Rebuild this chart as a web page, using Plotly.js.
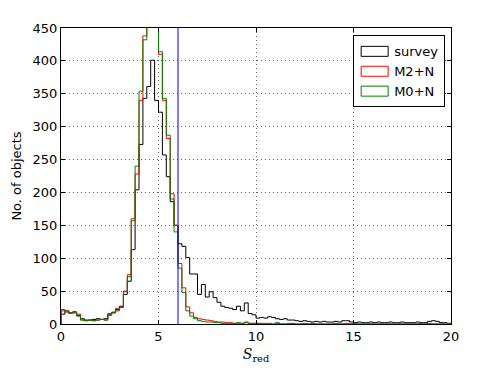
<!DOCTYPE html>
<html>
<head>
<meta charset="utf-8">
<script src="https://cdn.plot.ly/plotly-3.0.1.min.js"></script>
<style>
  html, body { margin: 0; padding: 0; background: #fff; }
  #chart { width: 491px; height: 368px; }
</style>
</head>
<body>
<div id="chart"></div>
<script>
// histogram counts, bins of width 0.2 from 0 to 20
const binWidth = 0.2;
const binStart = 0;

const surveyCounts = [
  15, 20, 17, 18, 13, 8, 6, 6, 7, 8,
  7, 8, 15, 18, 22, 27, 45, 65, 113, 204,
  273, 343, 361, 401, 340, 322, 257, 224, 186, 150,
  122, 118, 101, 76, 76, 45, 60, 41, 49, 40,
  33, 27, 25, 24, 22, 27, 20, 32, 16, 14,
  9, 10, 9, 11, 10, 8, 7, 8, 6, 6,
  5, 4, 5, 4, 3, 4, 3, 4, 3, 3,
  4, 3, 5, 5, 3, 2, 3, 2, 2, 3,
  2, 3, 2, 2, 3, 2, 2, 3, 2, 2,
  2, 3, 2, 2, 4, 5, 4, 2, 2, 1
];

const m2nCounts = [
  20, 20, 16, 17, 15, 6, 5, 6, 5, 6,
  7, 6, 16, 17, 24, 25, 50, 75, 160, 228,
  340, 438, 475, 505, 495, 410, 340, 282, 198, 150,
  92, 55, 26, 17, 10, 8, 7, 6, 5, 4,
  3, 3, 2, 2, 1, 1, 1, 2, 1, 1,
  1, 1, 0, 1, 0, 1, 0, 0, 0, 1,
  0, 0, 0, 0, 1, 0, 0, 0, 0, 0,
  0, 0, 0, 1, 0, 0, 0, 0, 0, 0,
  0, 0, 0, 0, 0, 0, 0, 0, 0, 0,
  0, 0, 0, 0, 1, 0, 0, 0, 0, 0
];

const m0nCounts = [
  22, 18, 16, 19, 12, 6, 5, 6, 5, 6,
  7, 6, 13, 17, 20, 25, 49, 72, 157, 240,
  354, 432, 470, 510, 490, 414, 343, 287, 190, 140,
  85, 48, 20, 12, 8, 5, 4, 3, 3, 2,
  2, 1, 1, 1, 1, 2, 1, 3, 1, 1,
  1, 0, 1, 0, 0, 2, 0, 0, 1, 0,
  0, 0, 1, 0, 0, 0, 0, 0, 0, 0,
  1, 0, 0, 0, 0, 1, 0, 0, 0, 0,
  0, 0, 0, 0, 0, 0, 0, 0, 0, 0,
  0, 0, 1, 0, 0, 0, 0, 0, 0, 0
];

const cutValue = 6;
const yTicks = [0, 50, 100, 150, 200, 250, 300, 350, 400, 450];
const xTicks = [0, 5, 10, 15, 20];

// outline like matplotlib histtype='step'
function stepTrace(counts, color) {
  const x = [binStart];
  const y = [0];
  counts.forEach((c, i) => {
    x.push(binStart + i * binWidth);
    y.push(c);
  });
  const end = binStart + counts.length * binWidth;
  x.push(end, end);
  y.push(counts[counts.length - 1], 0);
  return {
    x, y, type: 'scatter', mode: 'lines',
    line: { shape: 'hv', color, width: 1 },
    showlegend: false, hoverinfo: 'skip'
  };
}

// legend-only entries (outlined boxes)
function legendEntry(name, color) {
  return {
    x: [null], y: [null], type: 'bar', name,
    marker: { color: 'rgba(255,255,255,0)', line: { color, width: 1 } }
  };
}

const traces = [
  stepTrace(surveyCounts, 'black'),
  stepTrace(m2nCounts, 'red'),
  stepTrace(m0nCounts, 'green'),
  legendEntry('survey', 'black'),
  legendEntry('M2+N', 'red'),
  legendEntry('M0+N', 'green')
];

const axisCommon = {
  showline: true, mirror: 'ticks', linecolor: 'black', linewidth: 1,
  ticks: 'inside', ticklen: 4, tickcolor: 'black',
  showgrid: true, gridcolor: '#666', griddash: '1px,3px', gridwidth: 1,
  zeroline: false,
  tickfont: { family: 'DejaVu Sans', size: 13, color: 'black' }
};

const layout = {
  width: 491, height: 368,
  margin: { l: 61, r: 40, t: 28, b: 44 },
  paper_bgcolor: 'white', plot_bgcolor: 'white',
  font: { family: 'DejaVu Sans', size: 13, color: 'black' },
  xaxis: Object.assign({}, axisCommon, {
    range: [0, 20], tickvals: xTicks,
    title: { text: '<i>S</i><sub>red</sub>', font: { family: 'DejaVu Serif', size: 14 }, standoff: 6 }
  }),
  yaxis: Object.assign({}, axisCommon, {
    range: [0, 450], tickvals: yTicks,
    title: { text: 'No. of objects', font: { family: 'DejaVu Sans', size: 13 }, standoff: 8 }
  }),
  shapes: [{
    type: 'line', xref: 'x', yref: 'paper',
    x0: cutValue, x1: cutValue, y0: 0, y1: 1,
    line: { color: 'blue', width: 1 }
  }],
  legend: {
    x: 0.985, y: 0.975, xanchor: 'right', yanchor: 'top',
    bgcolor: 'white', bordercolor: 'black', borderwidth: 1,
    font: { family: 'DejaVu Sans', size: 13 },
    tracegroupgap: 0
  },
  barmode: 'overlay',
  showlegend: true
};

Plotly.newPlot('chart', traces, layout, { displayModeBar: false, staticPlot: true }).then(gd => {
  // wider rectangle swatches like matplotlib's patch legend
  gd.querySelectorAll('.legend .legendpoints path').forEach(p => {
    p.setAttribute('d', 'M-13,-5h27v10h-27z');
  });
});
</script>
</body>
</html>
